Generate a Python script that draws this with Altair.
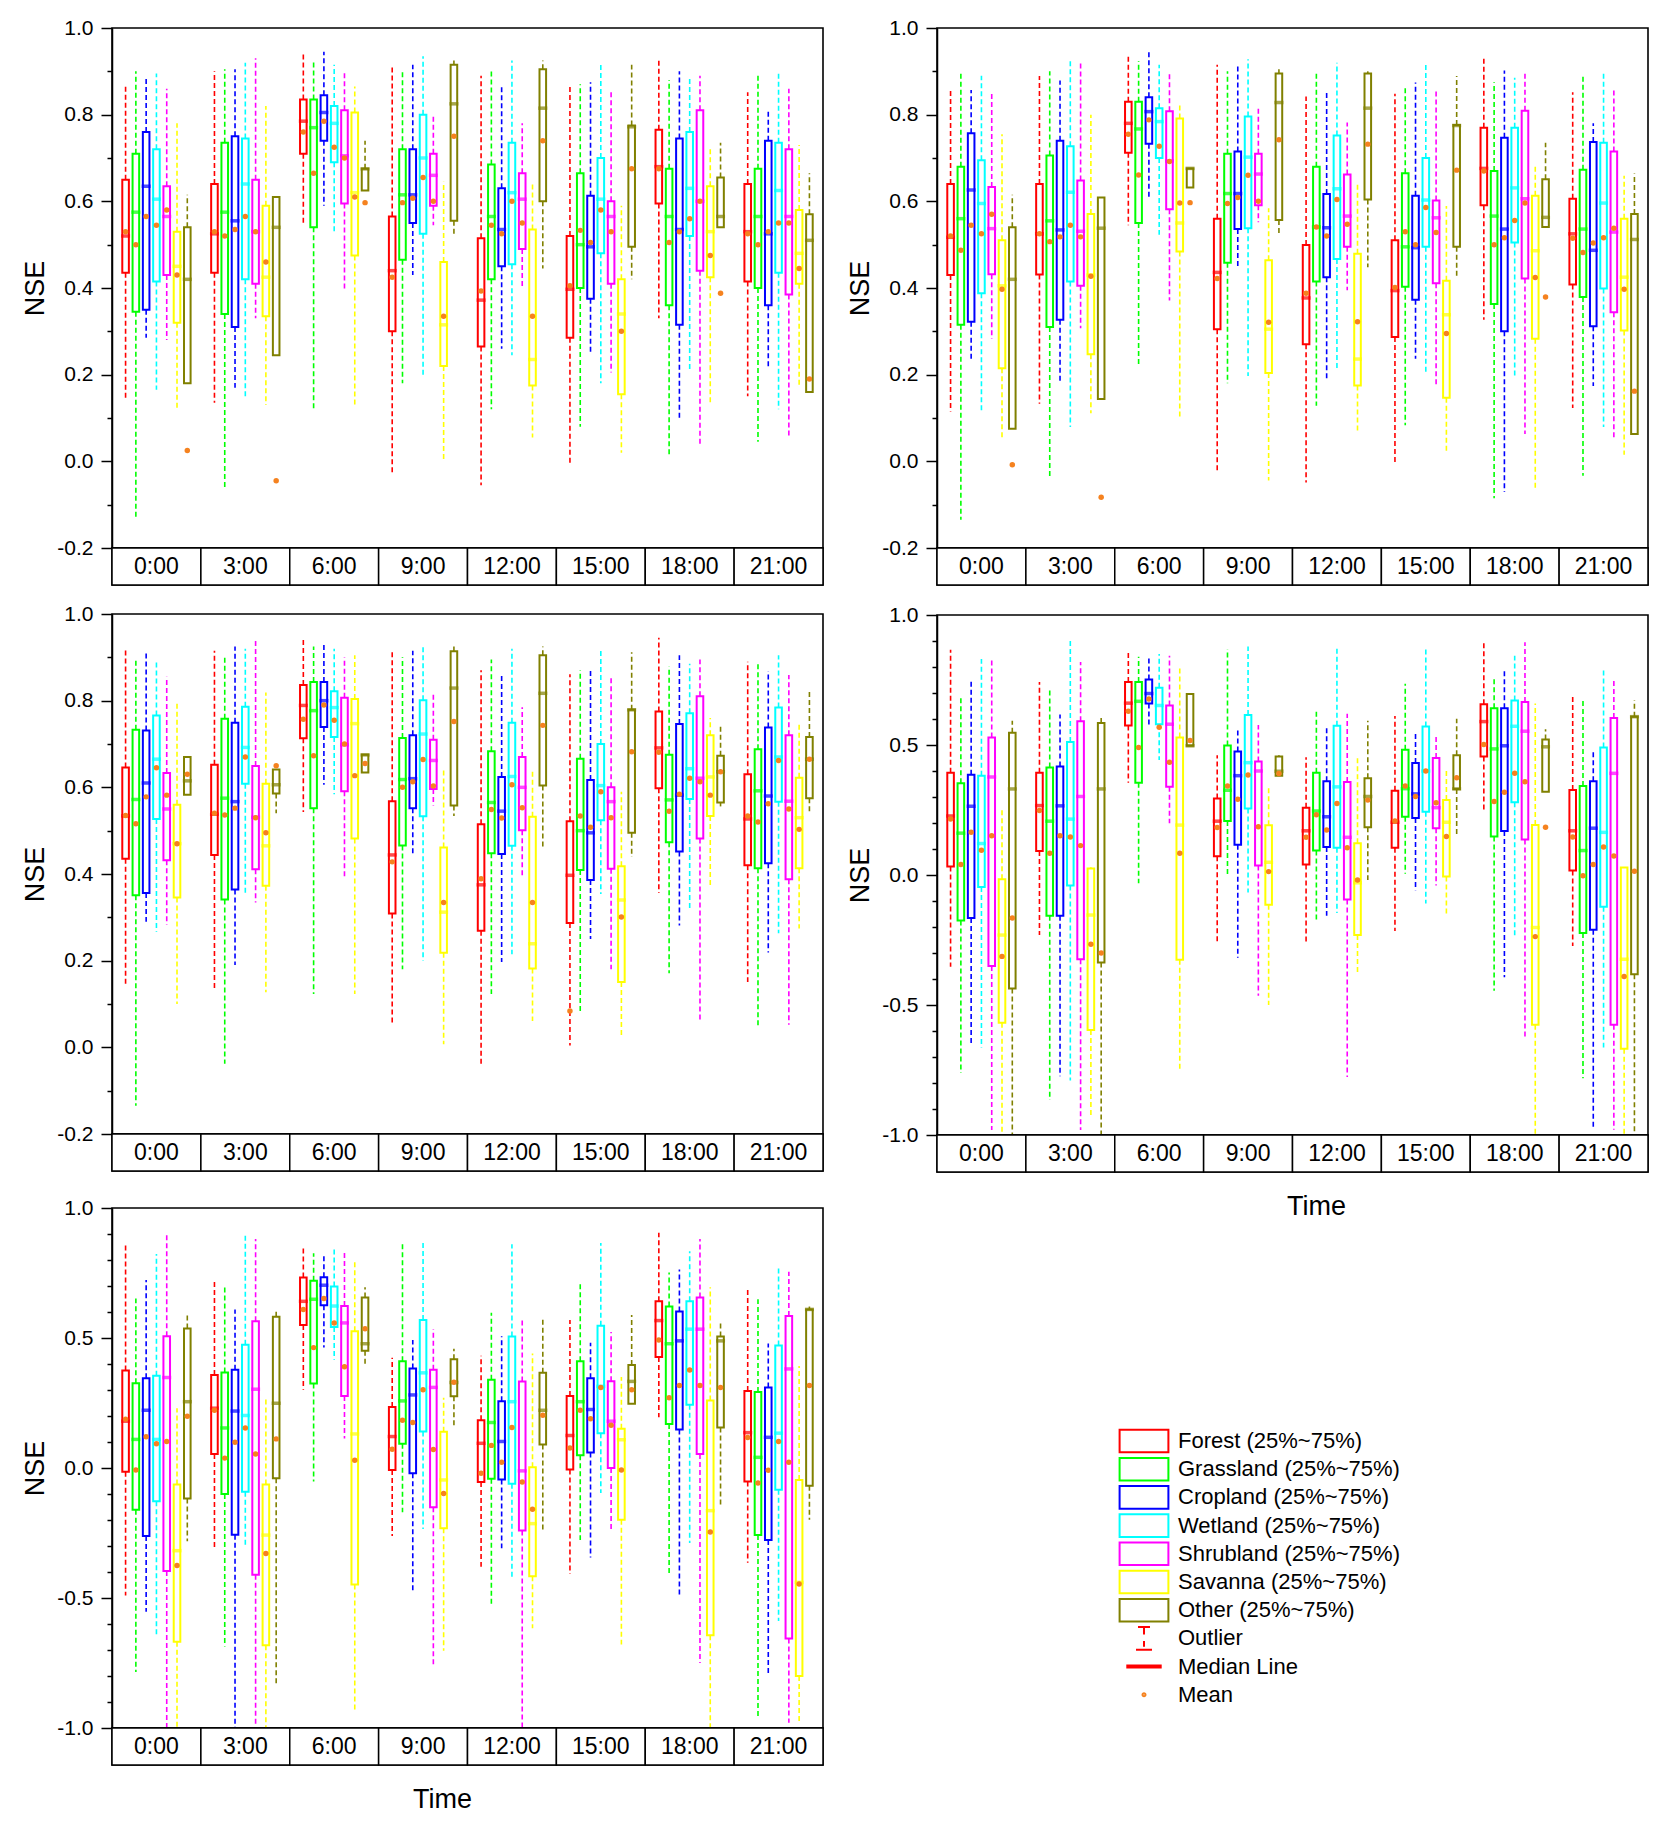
import altair as alt
import pandas as pd

# ---------------------------------------------------------------- categories
TIMES = ["0:00", "3:00", "6:00", "9:00", "12:00", "15:00", "18:00", "21:00"]
TYPES = ["Forest", "Grassland", "Cropland", "Wetland", "Shrubland", "Savanna", "Other"]
COLORS = ["#FF0000", "#00FF00", "#0000FF", "#00FFFF", "#FF00FF", "#FFFF00", "#808000"]
MEAN_COLOR = "#F5821F"

# rows = TIMES, columns = TYPES
# ---------------------------------------------------------------- panel 1
P1_HI = [[0.87, 0.90, 0.885, 0.895, 0.86, 0.78, 0.615],
         [0.90, 0.905, 0.905, 0.92, 0.93, 0.82, 0.61],
         [0.94, 0.925, 0.945, 0.915, 0.90, 0.865, 0.74],
         [0.915, 0.90, 0.915, 0.935, 0.80, 0.645, 0.925],
         [0.89, 0.90, 0.865, 0.925, 0.78, 0.64, 0.925],
         [0.865, 0.87, 0.875, 0.92, 0.855, 0.59, 0.915],
         [0.93, 0.88, 0.90, 0.885, 0.89, 0.72, 0.735],
         [0.852, 0.895, 0.81, 0.90, 0.86, 0.73, 0.665]]
P1_Q3 = [[0.65, 0.71, 0.76, 0.72, 0.635, 0.53, 0.54],
         [0.64, 0.735, 0.75, 0.745, 0.65, 0.59, 0.61],
         [0.835, 0.835, 0.845, 0.82, 0.81, 0.805, 0.675],
         [0.565, 0.72, 0.72, 0.80, 0.71, 0.46, 0.915],
         [0.515, 0.685, 0.63, 0.735, 0.665, 0.535, 0.905],
         [0.52, 0.665, 0.613, 0.70, 0.60, 0.42, 0.775],
         [0.765, 0.675, 0.745, 0.76, 0.81, 0.635, 0.655],
         [0.64, 0.675, 0.74, 0.735, 0.72, 0.58, 0.57]]
P1_MED = [[0.52, 0.575, 0.635, 0.605, 0.565, 0.45, 0.42],
          [0.525, 0.575, 0.555, 0.64, 0.53, 0.425, 0.54],
          [0.785, 0.77, 0.805, 0.78, 0.705, 0.62, 0.675],
          [0.44, 0.615, 0.615, 0.70, 0.66, 0.315, 0.825],
          [0.372, 0.565, 0.535, 0.62, 0.605, 0.235, 0.815],
          [0.397, 0.50, 0.495, 0.605, 0.565, 0.34, 0.772],
          [0.68, 0.565, 0.535, 0.63, 0.60, 0.53, 0.565],
          [0.53, 0.565, 0.525, 0.625, 0.565, 0.48, 0.51]]
P1_Q1 = [[0.435, 0.345, 0.35, 0.415, 0.43, 0.32, 0.18],
         [0.435, 0.34, 0.31, 0.42, 0.41, 0.335, 0.245],
         [0.71, 0.54, 0.74, 0.69, 0.595, 0.475, 0.625],
         [0.30, 0.465, 0.55, 0.525, 0.59, 0.22, 0.555],
         [0.265, 0.42, 0.45, 0.455, 0.49, 0.175, 0.60],
         [0.285, 0.40, 0.375, 0.48, 0.41, 0.155, 0.495],
         [0.595, 0.36, 0.315, 0.52, 0.44, 0.425, 0.54],
         [0.415, 0.40, 0.36, 0.435, 0.385, 0.41, 0.16]]
P1_LO = [[0.145, -0.135, 0.285, 0.165, 0.28, 0.12, 0.18],
         [0.135, -0.065, 0.17, 0.15, 0.33, 0.13, 0.245],
         [0.545, 0.12, 0.59, 0.525, 0.395, 0.125, 0.625],
         [-0.03, 0.18, 0.43, 0.20, 0.545, 0.005, 0.525],
         [-0.055, 0.12, 0.26, 0.245, 0.40, 0.055, 0.445],
         [-0.005, 0.08, 0.25, 0.18, 0.205, 0.02, 0.42],
         [0.33, 0.01, 0.10, 0.21, 0.035, 0.135, 0.54],
         [0.15, 0.045, 0.215, 0.12, 0.055, 0.175, 0.16]]
P1_MEAN = [[0.53, 0.50, 0.565, 0.545, 0.58, 0.43, 0.025],
           [0.53, 0.52, 0.535, 0.565, 0.53, 0.46, -0.045],
           [0.76, 0.665, 0.785, 0.725, 0.70, 0.61, 0.597],
           [0.425, 0.597, 0.607, 0.655, 0.60, 0.335, 0.75],
           [0.393, 0.545, 0.525, 0.60, 0.55, 0.335, 0.74],
           [0.405, 0.533, 0.505, 0.58, 0.53, 0.30, 0.675],
           [0.675, 0.505, 0.53, 0.56, 0.60, 0.475, 0.388],
           [0.525, 0.50, 0.53, 0.55, 0.55, 0.445, 0.19]]

# ---------------------------------------------------------------- panel 2
P2_HI = [[0.86, 0.90, 0.857, 0.89, 0.85, 0.755, 0.615],
         [0.889, 0.90, 0.879, 0.924, 0.925, 0.80, 0.61],
         [0.935, 0.924, 0.945, 0.915, 0.90, 0.824, 0.676],
         [0.915, 0.90, 0.912, 0.928, 0.815, 0.584, 0.905],
         [0.842, 0.895, 0.857, 0.92, 0.782, 0.64, 0.90],
         [0.848, 0.867, 0.874, 0.92, 0.856, 0.589, 0.889],
         [0.931, 0.875, 0.902, 0.885, 0.895, 0.684, 0.735],
         [0.852, 0.89, 0.78, 0.895, 0.86, 0.659, 0.664]]
P2_Q3 = [[0.64, 0.68, 0.757, 0.695, 0.633, 0.51, 0.54],
         [0.64, 0.706, 0.74, 0.727, 0.648, 0.571, 0.609],
         [0.83, 0.83, 0.84, 0.815, 0.808, 0.791, 0.676],
         [0.56, 0.71, 0.715, 0.796, 0.71, 0.464, 0.895],
         [0.499, 0.68, 0.617, 0.752, 0.662, 0.479, 0.895],
         [0.51, 0.665, 0.613, 0.70, 0.602, 0.417, 0.776],
         [0.77, 0.67, 0.747, 0.77, 0.809, 0.613, 0.651],
         [0.606, 0.673, 0.737, 0.735, 0.715, 0.56, 0.571]]
P2_MED = [[0.517, 0.56, 0.626, 0.595, 0.537, 0.405, 0.42],
          [0.525, 0.555, 0.534, 0.621, 0.531, 0.43, 0.538],
          [0.78, 0.767, 0.807, 0.784, 0.693, 0.55, 0.676],
          [0.436, 0.618, 0.618, 0.702, 0.663, 0.305, 0.828],
          [0.377, 0.541, 0.539, 0.629, 0.566, 0.236, 0.815],
          [0.394, 0.495, 0.493, 0.603, 0.562, 0.338, 0.775],
          [0.676, 0.566, 0.536, 0.631, 0.606, 0.486, 0.563],
          [0.525, 0.536, 0.487, 0.596, 0.529, 0.425, 0.512]]
P2_Q1 = [[0.43, 0.315, 0.322, 0.388, 0.432, 0.215, 0.075],
         [0.431, 0.31, 0.327, 0.415, 0.405, 0.247, 0.144],
         [0.712, 0.55, 0.733, 0.70, 0.582, 0.484, 0.632],
         [0.305, 0.458, 0.536, 0.538, 0.591, 0.204, 0.557],
         [0.27, 0.415, 0.425, 0.467, 0.495, 0.175, 0.604],
         [0.287, 0.403, 0.373, 0.495, 0.411, 0.147, 0.495],
         [0.591, 0.363, 0.30, 0.505, 0.422, 0.283, 0.541],
         [0.408, 0.379, 0.312, 0.399, 0.344, 0.302, 0.063]]
P2_LO = [[0.115, -0.135, 0.237, 0.117, 0.283, 0.05, 0.075],
         [0.133, -0.041, 0.179, 0.079, 0.307, 0.111, 0.144],
         [0.545, 0.224, 0.606, 0.523, 0.371, 0.10, 0.632],
         [-0.027, 0.18, 0.45, 0.197, 0.552, -0.044, 0.527],
         [-0.049, 0.128, 0.186, 0.21, 0.395, 0.065, 0.448],
         [-0.007, 0.083, 0.237, 0.20, 0.171, 0.022, 0.426],
         [0.327, -0.085, -0.071, 0.193, 0.063, -0.068, 0.541],
         [0.123, -0.033, 0.174, 0.079, 0.055, 0.015, 0.063]]
P2_MEAN = [[0.52, 0.487, 0.545, 0.525, 0.57, 0.397, -0.008],
           [0.525, 0.507, 0.518, 0.545, 0.518, 0.427, -0.083],
           [0.755, 0.661, 0.788, 0.727, 0.692, 0.596, 0.597],
           [0.422, 0.595, 0.609, 0.66, 0.60, 0.321, 0.742],
           [0.388, 0.541, 0.52, 0.604, 0.547, 0.322, 0.732],
           [0.401, 0.53, 0.50, 0.586, 0.528, 0.295, 0.672],
           [0.67, 0.50, 0.516, 0.556, 0.596, 0.424, 0.379],
           [0.515, 0.482, 0.504, 0.516, 0.538, 0.397, 0.162]]

# ---------------------------------------------------------------- panel 3
P3_HI = [[0.916, 0.898, 0.915, 0.895, 0.855, 0.80, 0.67],
         [0.915, 0.90, 0.925, 0.92, 0.94, 0.819, 0.641],
         [0.947, 0.925, 0.935, 0.92, 0.90, 0.905, 0.675],
         [0.915, 0.90, 0.915, 0.93, 0.817, 0.64, 0.925],
         [0.87, 0.895, 0.864, 0.92, 0.785, 0.64, 0.925],
         [0.861, 0.87, 0.875, 0.92, 0.855, 0.59, 0.912],
         [0.945, 0.879, 0.905, 0.885, 0.895, 0.76, 0.74],
         [0.89, 0.89, 0.868, 0.905, 0.859, 0.751, 0.82]]
P3_Q3 = [[0.646, 0.733, 0.731, 0.766, 0.633, 0.56, 0.67],
         [0.652, 0.758, 0.749, 0.786, 0.649, 0.608, 0.641],
         [0.836, 0.843, 0.843, 0.822, 0.807, 0.804, 0.675],
         [0.568, 0.714, 0.72, 0.801, 0.71, 0.461, 0.914],
         [0.515, 0.683, 0.624, 0.749, 0.67, 0.532, 0.905],
         [0.522, 0.666, 0.617, 0.70, 0.60, 0.418, 0.779],
         [0.775, 0.675, 0.746, 0.771, 0.81, 0.72, 0.673],
         [0.63, 0.688, 0.738, 0.784, 0.72, 0.622, 0.716]]
P3_MED = [[0.534, 0.572, 0.61, 0.665, 0.55, 0.47, 0.615],
          [0.538, 0.575, 0.567, 0.692, 0.531, 0.465, 0.606],
          [0.789, 0.777, 0.80, 0.784, 0.698, 0.747, 0.675],
          [0.444, 0.618, 0.62, 0.723, 0.662, 0.312, 0.829],
          [0.375, 0.565, 0.545, 0.625, 0.60, 0.239, 0.817],
          [0.397, 0.50, 0.495, 0.604, 0.567, 0.34, 0.779],
          [0.691, 0.571, 0.582, 0.643, 0.621, 0.624, 0.636],
          [0.527, 0.592, 0.58, 0.67, 0.568, 0.53, 0.665]]
P3_Q1 = [[0.435, 0.351, 0.356, 0.527, 0.432, 0.346, 0.583],
         [0.444, 0.341, 0.364, 0.608, 0.411, 0.373, 0.586],
         [0.713, 0.552, 0.739, 0.716, 0.591, 0.482, 0.634],
         [0.309, 0.466, 0.552, 0.533, 0.596, 0.218, 0.558],
         [0.269, 0.448, 0.446, 0.465, 0.501, 0.182, 0.604],
         [0.287, 0.409, 0.386, 0.524, 0.412, 0.151, 0.495],
         [0.598, 0.473, 0.452, 0.573, 0.482, 0.534, 0.565],
         [0.42, 0.413, 0.425, 0.567, 0.388, 0.413, 0.575]]
P3_LO = [[0.145, -0.135, 0.29, 0.267, 0.283, 0.10, 0.583],
         [0.133, -0.038, 0.19, 0.35, 0.334, 0.127, 0.54],
         [0.543, 0.123, 0.606, 0.584, 0.395, 0.123, 0.634],
         [0.055, 0.18, 0.441, 0.20, 0.558, 0.007, 0.534],
         [-0.038, 0.123, 0.197, 0.215, 0.395, 0.061, 0.461],
         [0.004, 0.081, 0.25, 0.354, 0.18, 0.024, 0.439],
         [0.356, 0.171, 0.281, 0.316, 0.064, 0.373, 0.556],
         [0.151, 0.05, 0.219, 0.263, 0.052, 0.274, 0.545]]
P3_MEAN = [[0.535, 0.516, 0.578, 0.645, 0.582, 0.47, 0.63],
           [0.54, 0.536, 0.552, 0.67, 0.53, 0.495, 0.65],
           [0.757, 0.673, 0.79, 0.755, 0.70, 0.627, 0.655],
           [0.428, 0.60, 0.613, 0.664, 0.603, 0.334, 0.752],
           [0.389, 0.549, 0.529, 0.606, 0.553, 0.334, 0.743],
           [0.084, 0.534, 0.508, 0.59, 0.53, 0.301, 0.682],
           [0.681, 0.545, 0.584, 0.621, 0.613, 0.582, 0.636],
           [0.534, 0.52, 0.562, 0.662, 0.55, 0.503, 0.665]]

# ---------------------------------------------------------------- panel 4
P4_HI = [[0.866, 0.68, 0.752, 0.831, 0.83, 0.251, 0.593],
         [0.742, 0.72, 0.617, 0.903, 0.819, 0.03, 0.609],
         [0.855, 0.839, 0.835, 0.85, 0.843, 0.797, 0.696],
         [0.461, 0.868, 0.561, 0.879, 0.577, 0.334, 0.461],
         [0.453, 0.636, 0.574, 0.871, 0.62, 0.453, 0.593],
         [0.612, 0.736, 0.548, 0.874, 0.534, 0.402, 0.601],
         [0.903, 0.76, 0.792, 0.843, 0.895, 0.66, 0.561],
         [0.696, 0.672, 0.482, 0.787, 0.755, 0.03, 0.672]]
P4_Q3 = [[0.393, 0.353, 0.386, 0.382, 0.529, -0.016, 0.547],
         [0.393, 0.413, 0.417, 0.512, 0.591, 0.025, 0.585],
         [0.742, 0.742, 0.752, 0.72, 0.652, 0.529, 0.696],
         [0.294, 0.498, 0.475, 0.615, 0.437, 0.191, 0.456],
         [0.259, 0.393, 0.361, 0.574, 0.358, 0.122, 0.372],
         [0.324, 0.482, 0.431, 0.571, 0.45, 0.288, 0.461],
         [0.657, 0.641, 0.641, 0.671, 0.665, 0.192, 0.521],
         [0.327, 0.342, 0.361, 0.49, 0.604, 0.029, 0.609]]
P4_MED = [[0.227, 0.161, 0.264, 0.121, 0.377, -0.231, 0.331],
          [0.267, 0.207, 0.266, 0.215, 0.302, -0.154, 0.331],
          [0.661, 0.668, 0.698, 0.652, 0.58, 0.192, 0.497],
          [0.207, 0.326, 0.382, 0.432, 0.40, 0.049, 0.399],
          [0.17, 0.246, 0.224, 0.339, 0.145, -0.03, 0.302],
          [0.203, 0.332, 0.312, 0.40, 0.259, 0.203, 0.331],
          [0.59, 0.485, 0.497, 0.572, 0.553, -0.202, 0.493],
          [0.17, 0.094, 0.18, 0.164, 0.391, -0.324, 0.609]]
P4_Q1 = [[0.033, -0.175, -0.165, -0.046, -0.35, -0.568, -0.437],
         [0.092, -0.157, -0.157, -0.04, -0.324, -0.596, -0.337],
         [0.575, 0.355, 0.66, 0.58, 0.339, -0.326, 0.497],
         [0.072, 0.208, 0.116, 0.256, 0.037, -0.114, 0.382],
         [0.04, 0.094, 0.108, 0.105, -0.094, -0.231, 0.184],
         [0.105, 0.224, 0.219, 0.243, 0.18, -0.006, 0.331],
         [0.456, 0.148, 0.169, 0.28, 0.137, -0.576, 0.32],
         [0.017, -0.223, -0.211, -0.122, -0.576, -0.668, -0.382]]
P4_LO = [[-0.353, -0.762, -0.655, -0.663, -0.981, -1.0, -1.0],
         [-0.231, -0.865, -0.774, -0.79, -0.981, -0.925, -1.0],
         [0.355, -0.032, 0.577, 0.442, 0.199, -0.75, 0.497],
         [-0.258, 0.0, -0.318, -0.067, -0.464, -0.50, 0.382],
         [-0.258, -0.178, -0.157, -0.146, -0.777, -0.38, -0.019],
         [-0.215, 0.005, -0.059, -0.11, -0.04, -0.149, 0.148],
         [0.251, -0.445, -0.393, -0.242, -0.631, -1.0, 0.32],
         [-0.273, -0.782, -0.98, -0.663, -0.98, -1.0, -1.0]]
P4_MEAN = [[0.215, 0.04, 0.164, 0.095, 0.151, -0.313, -0.165],
           [0.248, 0.084, 0.151, 0.146, 0.113, -0.266, -0.30],
           [0.63, 0.49, 0.677, 0.568, 0.434, 0.084, 0.517],
           [0.183, 0.342, 0.291, 0.385, 0.186, 0.013, 0.39],
           [0.145, 0.232, 0.173, 0.275, 0.105, -0.019, 0.288],
           [0.208, 0.342, 0.302, 0.40, 0.278, 0.148, 0.374],
           [0.502, 0.283, 0.318, 0.391, 0.359, -0.237, 0.184],
           [0.146, -0.003, 0.04, 0.108, 0.073, -0.39, 0.014]]

# ---------------------------------------------------------------- panel 5
P5_HI = [[0.865, 0.652, 0.723, 0.823, 0.905, 0.23, 0.589],
         [0.722, 0.70, 0.61, 0.897, 0.881, 0.271, 0.602],
         [0.854, 0.826, 0.82, 0.845, 0.831, 0.791, 0.695],
         [0.424, 0.865, 0.492, 0.873, 0.534, 0.27, 0.459],
         [0.432, 0.597, 0.507, 0.861, 0.578, 0.44, 0.577],
         [0.569, 0.709, 0.482, 0.865, 0.523, 0.35, 0.588],
         [0.905, 0.752, 0.763, 0.834, 0.881, 0.695, 0.561],
         [0.687, 0.649, 0.479, 0.779, 0.755, 0.392, 0.621]]
P5_Q3 = [[0.375, 0.326, 0.345, 0.355, 0.507, -0.063, 0.537],
         [0.358, 0.367, 0.378, 0.474, 0.564, -0.063, 0.582],
         [0.733, 0.72, 0.734, 0.698, 0.623, 0.526, 0.656],
         [0.235, 0.411, 0.383, 0.569, 0.378, 0.139, 0.418],
         [0.184, 0.339, 0.257, 0.506, 0.333, 0.003, 0.366],
         [0.277, 0.411, 0.345, 0.547, 0.334, 0.151, 0.396],
         [0.641, 0.621, 0.602, 0.641, 0.656, 0.26, 0.506],
         [0.296, 0.292, 0.31, 0.471, 0.585, -0.046, 0.61]]
P5_MED = [[0.18, 0.11, 0.222, 0.11, 0.348, -0.318, 0.255],
          [0.23, 0.154, 0.219, 0.202, 0.303, -0.258, 0.249],
          [0.641, 0.649, 0.703, 0.623, 0.558, 0.131, 0.478],
          [0.121, 0.258, 0.281, 0.366, 0.31, -0.046, 0.329],
          [0.095, 0.175, 0.102, 0.255, -0.011, -0.214, 0.222],
          [0.125, 0.255, 0.225, 0.314, 0.18, 0.109, 0.333],
          [0.567, 0.478, 0.489, 0.534, 0.534, -0.164, 0.489],
          [0.136, 0.041, 0.118, 0.134, 0.381, -0.44, 0.61]]
P5_Q1 = [[-0.014, -0.161, -0.262, -0.128, -0.396, -0.668, -0.117],
         [0.054, -0.10, -0.257, -0.091, -0.411, -0.682, -0.039],
         [0.55, 0.325, 0.626, 0.542, 0.277, -0.448, 0.451],
         [-0.008, 0.093, -0.02, 0.14, -0.151, -0.232, 0.276],
         [-0.054, -0.041, -0.044, -0.061, -0.24, -0.416, 0.09],
         [-0.006, 0.049, 0.06, 0.134, 0.0, -0.199, 0.247],
         [0.427, 0.169, 0.148, 0.243, 0.054, -0.643, 0.156],
         [-0.052, -0.258, -0.277, -0.084, -0.656, -0.80, -0.068]]
P5_LO = [[-0.49, -0.785, -0.553, -0.648, -1.0, -1.0, -0.282],
         [-0.31, -0.687, -1.0, -0.30, -0.987, -1.0, -0.834],
         [0.301, -0.052, 0.463, 0.416, 0.113, -0.939, 0.40],
         [-0.262, -0.17, -0.47, -0.235, -0.761, -0.703, 0.164],
         [-0.38, -0.53, -0.309, -0.419, -1.0, -0.616, -0.246],
         [-0.408, -0.277, -0.344, -0.096, -0.246, -0.679, 0.247],
         [0.195, -0.411, -0.487, -0.288, -0.75, -1.0, -0.151],
         [-0.364, -0.955, -0.797, -0.588, -0.98, -0.98, -0.199]]
P5_MEAN = [[0.188, -0.008, 0.12, 0.093, 0.102, -0.375, 0.199],
           [0.222, 0.038, 0.099, 0.154, 0.054, -0.329, 0.112],
           [0.61, 0.463, 0.652, 0.558, 0.389, 0.03, 0.536],
           [0.072, 0.184, 0.175, 0.301, 0.071, -0.098, 0.33],
           [-0.02, 0.087, 0.022, 0.156, -0.054, -0.159, 0.203],
           [0.077, 0.222, 0.189, 0.31, 0.164, -0.008, 0.301],
           [0.492, 0.27, 0.317, 0.377, 0.317, -0.246, 0.31],
           [0.117, -0.058, -0.009, 0.102, 0.022, -0.446, 0.317]]

# ---------------------------------------------------------------- legend
LEG_LABELS = [t + " (25%~75%)" for t in TYPES] + ["Outlier", "Median Line", "Mean"]
LEG_COLORS = COLORS + ["#FF0000", "#FF0000", MEAN_COLOR]
# every symbol spans the same height so the legend rows are evenly spaced
SPAN = "M0,-1.13L0,-1.13M0,1.13L0,1.13"
BOX_PATH = "M-2.44,-1.13H2.44V1.13H-2.44Z"
LEG_SHAPES = [BOX_PATH] * 7 + [
    "M-0.6,-1.13H0.6M0,-1.13V-0.4M0,0.27V0.83M-0.8,1.13H0.8",
    "M-1.67,-0.1H1.67V0.1H-1.67Z" + SPAN,
    "M-0.15,0A0.15,0.15,0,1,0,0.15,0A0.15,0.15,0,1,0,-0.15,0Z" + SPAN,
]

FONT = "Liberation Sans"
PW, PH, BH = 711, 520, 37
IND = dict(stroke="independent", shape="independent")


def frame(hi, q3, med, q1, lo, mean):
    rows = []
    for i, t in enumerate(TIMES):
        for j, ty in enumerate(TYPES):
            rows.append({"Time": t, "Type": ty, "hi": hi[i][j], "q3": q3[i][j],
                         "med": med[i][j], "q1": q1[i][j], "lo": lo[i][j],
                         "mean": mean[i][j]})
    return pd.DataFrame(rows)


def panel(df, ymin, major, time_title_x=None, with_legend=False):
    n = int(round((1.0 - ymin) * 10))
    tick_vals = [round(ymin + 0.1 * k, 1) for k in range(n + 1)]
    m = int(round(major * 10))
    is_major = f"round(datum.value*10) % {m} == 0"
    yaxis = alt.Axis(
        values=tick_vals,
        labelExpr=f"{is_major} ? ((datum.value < 0 ? '-' : '') + format(abs(datum.value), '.1f')) : ''",
        tickSize={"condition": {"test": is_major, "value": 11}, "value": 5},
        tickWidth=1.5, labelFontSize=21, labelPadding=8, labelOverlap=False,
        title="NSE", titleFontSize=27, titleFontWeight="normal", titlePadding=7,
        grid=False, domainWidth=1.5,
    )
    yscale = alt.Scale(domain=[ymin, 1.0], nice=False, zero=False)

    def Y(f):
        return alt.Y(f + ":Q", scale=yscale, axis=yaxis, title="NSE")

    base = alt.Chart(df).encode(
        x=alt.X("Time:N", sort=TIMES, axis=None,
                scale=alt.Scale(paddingInner=0, paddingOuter=0)),
        xOffset=alt.XOffset("Type:N", sort=TYPES,
                            scale=alt.Scale(paddingInner=0.36, paddingOuter=1.0)),
        color=alt.Color("Type:N", sort=TYPES, legend=None,
                        scale=alt.Scale(domain=TYPES, range=COLORS)),
    )
    upper = base.mark_rule(strokeDash=[5, 3], strokeWidth=1.6, clip=True).encode(
        y=Y("q3"), y2="hi:Q")
    lower = base.mark_rule(strokeDash=[5, 3], strokeWidth=1.6, clip=True).encode(
        y=Y("q1"), y2="lo:Q")
    box = base.mark_bar(filled=False, strokeWidth=2).encode(y=Y("q1"), y2="q3:Q")
    med = base.mark_tick(thickness=3.5, size=9).encode(y=Y("med"))
    mean = base.mark_circle(size=30, opacity=1).encode(
        y=Y("mean"), color=alt.value(MEAN_COLOR))
    layers = [upper, lower, box, med, mean]

    if with_legend:
        leg = alt.Legend(
            title=None, orient="none", legendX=196, legendY=815, padding=0,
            symbolSize=400, symbolStrokeWidth=2, symbolOpacity=1,
            labelFont=FONT, labelFontSize=22, labelColor="black",
            labelOffset=23, labelLimit=600, rowPadding=-3.8,
        )
        leg_df = pd.DataFrame({"item": LEG_LABELS})
        leg_layer = alt.Chart(leg_df).transform_filter("false").mark_point(
            filled=False, strokeWidth=2).encode(
            stroke=alt.Stroke("item:N", sort=LEG_LABELS, legend=leg,
                              scale=alt.Scale(domain=LEG_LABELS, range=LEG_COLORS)),
            shape=alt.Shape("item:N", sort=LEG_LABELS, legend=leg,
                            scale=alt.Scale(domain=LEG_LABELS, range=LEG_SHAPES)),
        )
        layers.append(leg_layer)

    plot = alt.layer(*layers).properties(width=PW, height=PH)

    if time_title_x is None:
        bx = None
    else:
        bx = alt.Axis(labels=False, ticks=False, domain=False, title="Time",
                      titleFontSize=27, titleFontWeight="normal", titlePadding=21,
                      titleX=time_title_x)
    bdf = pd.DataFrame({"Time": TIMES})
    bbase = alt.Chart(bdf).encode(
        x=alt.X("Time:N", sort=TIMES, axis=bx,
                scale=alt.Scale(paddingInner=0, paddingOuter=0)))
    rects = bbase.mark_rect(fill="white", stroke="black", strokeWidth=1.5)
    texts = bbase.mark_text(font=FONT, fontSize=23, color="black").encode(text="Time:N")
    band = alt.layer(rects, texts).properties(width=PW, height=BH)

    return alt.vconcat(plot, band, spacing=0, bounds="flush").resolve_scale(**IND)


p1 = panel(frame(P1_HI, P1_Q3, P1_MED, P1_Q1, P1_LO, P1_MEAN), -0.2, 0.2)
p2 = panel(frame(P2_HI, P2_Q3, P2_MED, P2_Q1, P2_LO, P2_MEAN), -0.2, 0.2)
p3 = panel(frame(P3_HI, P3_Q3, P3_MED, P3_Q1, P3_LO, P3_MEAN), -0.2, 0.2)
p4 = panel(frame(P4_HI, P4_Q3, P4_MED, P4_Q1, P4_LO, P4_MEAN), -1.0, 0.5,
           time_title_x=379, with_legend=True)
p5 = panel(frame(P5_HI, P5_Q3, P5_MED, P5_Q1, P5_LO, P5_MEAN), -1.0, 0.5,
           time_title_x=330)

left = alt.vconcat(alt.vconcat(p1, p3, spacing=15).resolve_scale(**IND), p5,
                   spacing=23).resolve_scale(**IND)
right = alt.vconcat(p2, p4, spacing=16).resolve_scale(**IND)

chart = alt.hconcat(left, right, spacing=21).resolve_scale(**IND).properties(
    padding={"left": 13, "top": 8, "right": 10, "bottom": 10}
).configure_view(
    stroke="black", strokeWidth=1.6
).configure_axis(
    labelFont=FONT, titleFont=FONT, labelColor="black", titleColor="black",
    tickColor="black", domainColor="black"
)

chart.save("out.html", embed_options={"renderer": "svg", "actions": False})
